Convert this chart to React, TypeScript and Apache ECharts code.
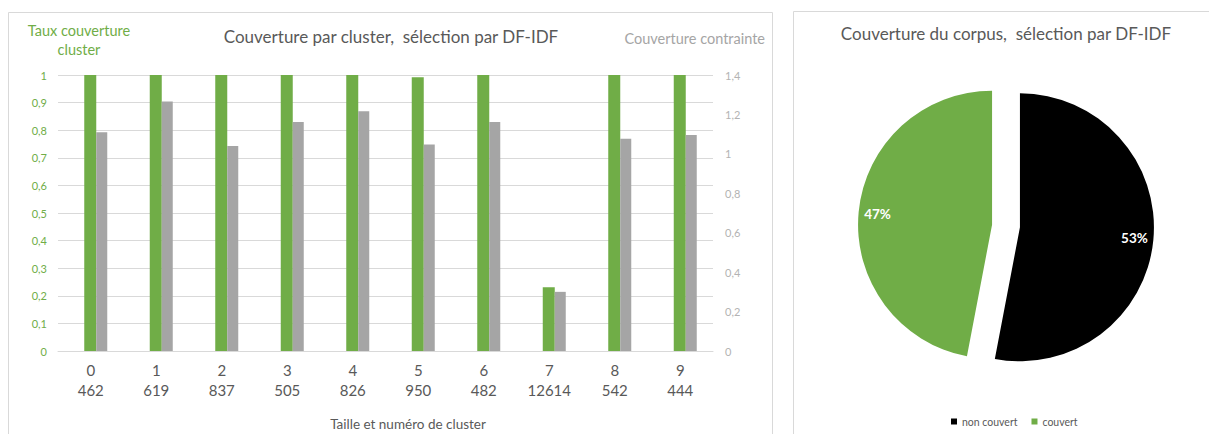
import React, { useEffect, useRef } from 'react';
import * as echarts from 'echarts';

const categories = ['0', '1', '2', '3', '4', '5', '6', '7', '8', '9'];
const clusterSizes = [462, 619, 837, 505, 826, 950, 482, 12614, 542, 444];
const tauxCouverture = [1, 1, 1, 1, 1, 0.992, 1, 0.231, 1, 1];
const couvertureContrainte = [1.11, 1.265, 1.04, 1.162, 1.216, 1.048, 1.162, 0.3, 1.077, 1.096];
const pieNames = ['non couvert', 'couvert'];
const pieValues = [53, 47];
const pieColors = ['#000000', '#70ad47'];

const GREEN = '#70ad47';
const GRAY = '#a5a5a5';
const TEXT = '#595959';
const FONT = 'Lato, "Open Sans", sans-serif';

const fmt = (v: number) => String(Math.round(v * 10) / 10).replace('.', ',');

export default function App() {
  const ref = useRef<HTMLDivElement>(null);
  useEffect(() => {
    const chart = echarts.init(ref.current!, null, { renderer: 'svg' });
    const pieData = pieNames.map((n, i) => ({
      name: n,
      value: pieValues[i],
      selected: true,
      itemStyle: { color: pieColors[i] },
    }));
    chart.setOption({
      animation: false,
      textStyle: { fontFamily: FONT },
      graphic: [
        { type: 'rect', silent: true, z: -10, shape: { x: 8.5, y: 12.5, width: 764, height: 440 }, style: { fill: 'none', stroke: '#d9d9d9', lineWidth: 1 } },
        { type: 'rect', silent: true, z: -10, shape: { x: 793.5, y: 11.5, width: 440, height: 440 }, style: { fill: 'none', stroke: '#d9d9d9', lineWidth: 1 } },
        { type: 'text', x: 391, y: 36, style: { text: 'Couverture par cluster,  sélection par DF-IDF', fill: TEXT, font: `17px ${FONT}`, textAlign: 'center', textVerticalAlign: 'middle' } },
        { type: 'text', x: 79, y: 40, style: { text: 'Taux couverture\ncluster', fill: GREEN, font: `14.5px ${FONT}`, lineHeight: 19, textAlign: 'center', textVerticalAlign: 'middle' } },
        { type: 'text', x: 765, y: 38, style: { text: 'Couverture contrainte', fill: GRAY, font: `14.5px ${FONT}`, textAlign: 'right', textVerticalAlign: 'middle' } },
        { type: 'text', x: 408, y: 424, style: { text: 'Taille et numéro de cluster', fill: TEXT, font: `13.5px ${FONT}`, textAlign: 'center', textVerticalAlign: 'middle' } },
        { type: 'text', x: 1006, y: 33, style: { text: 'Couverture du corpus,  sélection par DF-IDF', fill: TEXT, font: `17px ${FONT}`, textAlign: 'center', textVerticalAlign: 'middle' } },
      ],
      legend: {
        data: pieNames,
        left: 946,
        top: 411,
        orient: 'horizontal',
        icon: 'rect',
        itemWidth: 6,
        itemHeight: 6,
        itemGap: 14,
        textStyle: { color: TEXT, fontSize: 10.5, fontFamily: FONT },
        selectedMode: false,
      },
      grid: { left: 58, right: 496, top: 75, bottom: 83, containLabel: false },
      xAxis: {
        type: 'category',
        data: categories,
        axisTick: { show: false },
        axisLine: { lineStyle: { color: '#d9d9d9' } },
        axisLabel: {
          color: TEXT,
          fontSize: 15,
          lineHeight: 20,
          margin: 9,
          fontFamily: FONT,
          formatter: (v: string, i: number) => `${v}\n${clusterSizes[i]}`,
        },
      },
      yAxis: [
        {
          type: 'value',
          min: 0,
          max: 1,
          interval: 0.1,
          axisLine: { show: false },
          axisTick: { show: false },
          splitLine: { lineStyle: { color: '#d9d9d9' } },
          axisLabel: { color: GREEN, fontSize: 11, margin: 11, fontFamily: FONT, formatter: fmt },
        },
        {
          type: 'value',
          min: 0,
          max: 1.4,
          interval: 0.2,
          position: 'right',
          axisLine: { show: false },
          axisTick: { show: false },
          splitLine: { show: false },
          axisLabel: { color: '#b3b3b3', fontSize: 11, margin: 12, fontFamily: FONT, formatter: fmt },
        },
      ],
      series: [
        {
          name: 'spacer',
          type: 'bar',
          data: categories.map(() => null),
          barWidth: 10,
          barGap: 0,
          silent: true,
        },
        {
          name: 'Taux couverture cluster',
          type: 'bar',
          yAxisIndex: 0,
          data: tauxCouverture,
          barWidth: 12,
          barGap: 0,
          itemStyle: { color: GREEN },
        },
        {
          name: 'Couverture contrainte',
          type: 'bar',
          yAxisIndex: 1,
          data: couvertureContrainte,
          barWidth: 11,
          barGap: 0,
          itemStyle: { color: GRAY },
        },
        {
          name: 'corpus',
          type: 'pie',
          center: [1006, 226],
          radius: 134,
          startAngle: 90,
          clockwise: true,
          selectedMode: 'multiple',
          selectedOffset: 14,
          label: { show: false },
          labelLine: { show: false },
          emphasis: { disabled: true },
          data: pieData,
        },
        {
          name: 'labels',
          type: 'pie',
          center: [1006, 226],
          radius: [90, 134],
          startAngle: 90,
          clockwise: true,
          selectedMode: 'multiple',
          selectedOffset: 14,
          silent: true,
          itemStyle: { color: 'transparent', borderWidth: 0 },
          label: {
            show: true,
            position: 'inside',
            formatter: '{d}%',
            color: '#ffffff',
            fontWeight: 'bold',
            fontSize: 13.5,
            fontFamily: FONT,
          },
          labelLine: { show: false },
          emphasis: { disabled: true },
          data: pieNames.map((n, i) => ({ name: n, value: pieValues[i], selected: true, itemStyle: { color: 'transparent' } })),
        },
      ],
    });
    return () => chart.dispose();
  }, []);
  return (
    <div
      ref={ref}
      style={{ position: 'absolute', left: 0, top: 0, width: 1209, height: 434, background: '#fff' }}
    />
  );
}
